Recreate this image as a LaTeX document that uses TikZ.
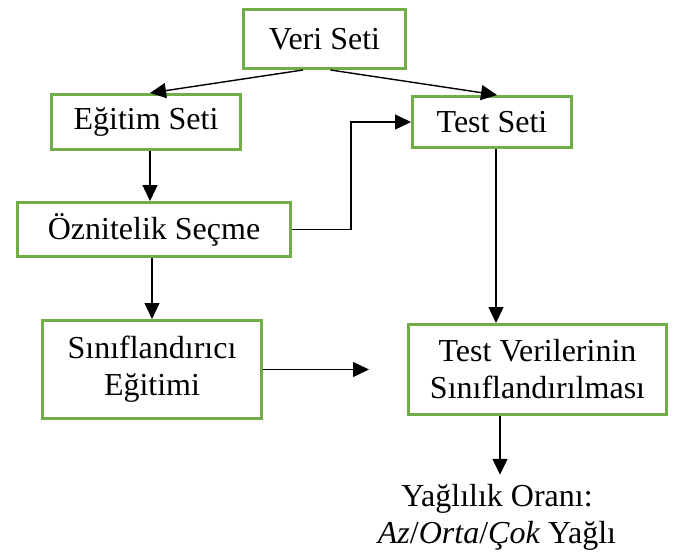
\documentclass[tikz,border=0pt]{standalone}
\usepackage{fontspec}
\setmainfont{Liberation Serif}
\usetikzlibrary{positioning,arrows.meta}
\definecolor{kutuyesil}{RGB}{112,173,71}
\tikzstyle{kutu} = [rectangle, draw=kutuyesil, line width=3pt, align=center, inner sep=0pt, font=\fontsize{32}{37}\selectfont]
\tikzstyle{yazi} = [align=center, inner sep=0pt, font=\fontsize{32}{37}\selectfont]
\tikzstyle{ok} = [-{Triangle[length=16pt,width=15pt]}, line width=1.4pt]

\begin{document}
\begin{tikzpicture}[node distance=1cm and 2cm,auto]
    \useasboundingbox (0,0) rectangle (674pt,-551pt);
    \node [kutu, minimum width=162pt, minimum height=59pt] (veri) at (324.5pt,-39pt) {Veri Seti};
    \node [kutu, minimum width=189pt, minimum height=55pt, below left=23pt and 0pt of veri] (egitim) {Eğitim Seti};
    \node [kutu, minimum width=159pt, minimum height=51pt, below right=25pt and 4pt of veri] (test) {Test Seti};
    \node [kutu, minimum width=273pt, minimum height=54pt, below=50pt of egitim, xshift=8pt] (oznitelik) {Öznitelik Seçme};
    \node [kutu, minimum width=219pt, minimum height=98pt, below=61pt of oznitelik, xshift=-2pt] (sinif) {Sınıflandırıcı\\Eğitimi};
    \node [kutu, minimum width=258pt, minimum height=90pt, right=144pt of sinif] (testver) {Test Verilerinin\\Sınıflandırılması};
    \node [yazi] (oran) at (497pt,-517pt) {Yağlılık Oranı:\\\textit{Az}/\textit{Orta}/\textit{Çok} Yağlı};

    \coordinate [right=106pt of sinif.east] (bosluk);
    \coordinate [above=9pt of oran.north, xshift=3pt] (oranust);

     \draw[ok]([xshift=-21.5pt]veri.south) -- ([xshift=4pt]egitim.north);
     \draw[ok]([xshift=6pt]veri.south) -- ([xshift=5pt]test.north);
     \draw[ok]([xshift=4pt]egitim.south) -- ([xshift=4pt]egitim.south |- oznitelik.north);
     \draw[ok](oznitelik.east) -- ++(59pt,0) |- (test.west);
     \draw[ok](oznitelik.south -| sinif.north) -- (sinif.north);
     \draw[ok]([xshift=4pt]test.south) -- ([xshift=4pt]test.south |- testver.north);
     \draw[ok](sinif.east) -- (bosluk);
     \draw[ok](oranust |- testver.south) -- (oranust);
\end{tikzpicture}
\end{document}
